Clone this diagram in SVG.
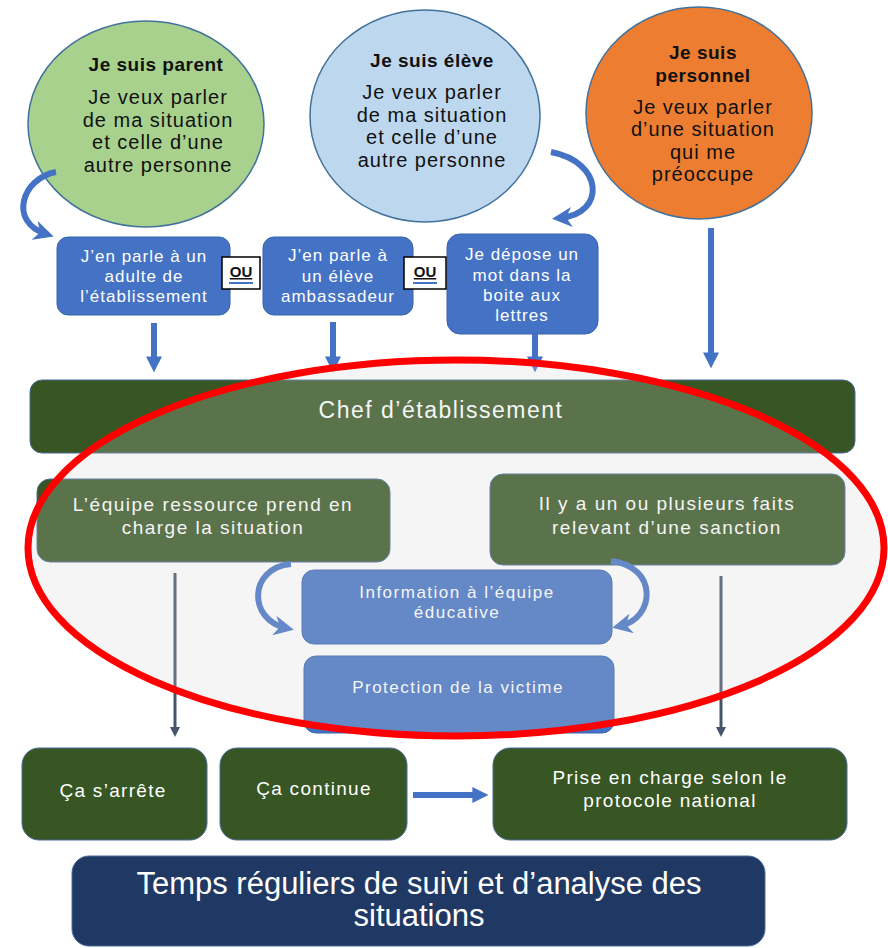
<svg xmlns="http://www.w3.org/2000/svg" width="888" height="948" viewBox="0 0 888 948">
<defs>
<style>
.t{font-family:"Liberation Sans",Arial,sans-serif;text-anchor:middle;}
.dk{fill:#111;}
.wh{fill:#fff;}
.b{font-weight:bold;letter-spacing:0.5px;font-size:19px;}
.eb{font-size:20px;letter-spacing:1px;}
.sb{font-size:17px;letter-spacing:1px;}
.gb{font-size:19px;letter-spacing:1.5px;}
.ib{font-size:17px;letter-spacing:1.5px;}
.bb{font-size:19px;letter-spacing:1.3px;}
.ell{stroke:#41719C;stroke-width:1.5;}
.bx{fill:#4472C4;stroke:#3A63AD;stroke-width:1;}
.gr{fill:#375623;stroke:#4A6A9A;stroke-width:1;}
.ou{fill:#fff;stroke:#000;stroke-width:1.5;}
.arr{fill:none;stroke:#4472C4;stroke-width:6;}
.thin{fill:none;stroke:#44546A;stroke-width:3;}
</style>
<marker id="ah" viewBox="0 0 10 10" refX="6" refY="5" markerWidth="16" markerHeight="16" markerUnits="userSpaceOnUse" orient="auto">
<path d="M0,0 L10,5 L0,10 Z" fill="#4472C4"/>
</marker>
<marker id="ahc" viewBox="0 0 10 10" refX="6" refY="5" markerWidth="20" markerHeight="20" markerUnits="userSpaceOnUse" orient="auto">
<path d="M0,0 L10,5 L0,10 L3,5 Z" fill="#4472C4"/>
</marker>
<marker id="aht" viewBox="0 0 10 10" refX="6" refY="5" markerWidth="10" markerHeight="10" markerUnits="userSpaceOnUse" orient="auto">
<path d="M0,0 L10,5 L0,10 Z" fill="#44546A"/>
</marker>
</defs>
<rect width="888" height="948" fill="#fff"/>

<g id="parent">
<ellipse class="ell" cx="146" cy="124" rx="118" ry="103" fill="#A9D18E"/>
<text class="t dk b" x="156" y="71">Je suis parent</text>
<text class="t dk eb" x="158" y="104">Je veux parler</text>
<text class="t dk eb" x="158" y="127">de ma situation</text>
<text class="t dk eb" x="158" y="149">et celle d’une</text>
<text class="t dk eb" x="158" y="172">autre personne</text>
</g>
<g id="eleve">
<ellipse class="ell" cx="425" cy="116" rx="115" ry="106" fill="#BDD7EE"/>
<text class="t dk b" x="432" y="67">Je suis élève</text>
<text class="t dk eb" x="432" y="99">Je veux parler</text>
<text class="t dk eb" x="432" y="122">de ma situation</text>
<text class="t dk eb" x="432" y="144">et celle d’une</text>
<text class="t dk eb" x="432" y="167">autre personne</text>
</g>
<g id="personnel">
<ellipse class="ell" cx="699" cy="113" rx="113" ry="106" fill="#ED7D31"/>
<text class="t dk b" x="703" y="59">Je suis</text>
<text class="t dk b" x="703" y="82">personnel</text>
<text class="t dk eb" x="703" y="114">Je veux parler</text>
<text class="t dk eb" x="703" y="136">d’une situation</text>
<text class="t dk eb" x="703" y="159">qui me</text>
<text class="t dk eb" x="703" y="181">préoccupe</text>
</g>

<g id="adulte">
<rect class="bx" x="57" y="237" width="173" height="78" rx="11"/>
<text class="t wh sb" x="144" y="262">J’en parle à un</text>
<text class="t wh sb" x="144" y="282">adulte de</text>
<text class="t wh sb" x="144" y="302">l’établissement</text>
</g>
<g id="ambassadeur">
<rect class="bx" x="263" y="237" width="150" height="78" rx="11"/>
<text class="t wh sb" x="338" y="261">J’en parle à</text>
<text class="t wh sb" x="338" y="282">un élève</text>
<text class="t wh sb" x="338" y="302">ambassadeur</text>
</g>
<g id="boite">
<rect class="bx" x="447" y="234" width="151" height="100" rx="13"/>
<text class="t wh sb" x="522" y="260">Je dépose un</text>
<text class="t wh sb" x="522" y="281">mot dans la</text>
<text class="t wh sb" x="522" y="301">boite aux</text>
<text class="t wh sb" x="522" y="321">lettres</text>
</g>
<g id="ou1">
<rect class="ou" x="222" y="257" width="38" height="32"/>
<text class="t dk" x="241" y="277" font-size="15" font-weight="bold" text-decoration="underline">OU</text>
<line x1="229" y1="283" x2="253" y2="283" stroke="#4472C4" stroke-width="2"/>
</g>
<g id="ou2">
<rect class="ou" x="404" y="257" width="42" height="32"/>
<text class="t dk" x="425" y="277" font-size="15" font-weight="bold" text-decoration="underline">OU</text>
<line x1="413" y1="283" x2="437" y2="283" stroke="#4472C4" stroke-width="2"/>
</g>

<g id="chef">
<rect class="gr" x="30" y="380" width="825" height="73" rx="12"/>
<text class="t wh" x="441" y="418" font-size="23" letter-spacing="1.5">Chef d’établissement</text>
</g>
<g id="equipe">
<rect class="gr" x="37" y="479" width="353" height="83" rx="13"/>
<text class="t wh gb" x="213" y="511">L’équipe ressource prend en</text>
<text class="t wh gb" x="213" y="534">charge la situation</text>
</g>
<g id="sanction">
<rect class="gr" x="490" y="474" width="355" height="91" rx="13"/>
<text class="t wh gb" x="667" y="510">Il y a un ou plusieurs faits</text>
<text class="t wh gb" x="667" y="534">relevant d’une sanction</text>
</g>
<g id="information">
<rect class="bx" x="302" y="570" width="310" height="74" rx="12"/>
<text class="t wh ib" x="457" y="598">Information à l’équipe</text>
<text class="t wh ib" x="457" y="618">éducative</text>
</g>
<g id="protection">
<rect class="bx" x="304" y="656" width="310" height="77" rx="12"/>
<text class="t wh ib" x="458" y="693">Protection de la victime</text>
</g>

<g id="arrete">
<rect class="gr" x="22" y="748" width="185" height="92" rx="17"/>
<text class="t wh bb" x="113" y="797">Ça s’arrête</text>
</g>
<g id="continue">
<rect class="gr" x="220" y="748" width="187" height="92" rx="17"/>
<text class="t wh bb" x="314" y="795">Ça continue</text>
</g>
<g id="protocole">
<rect class="gr" x="493" y="748" width="354" height="92" rx="17"/>
<text class="t wh bb" x="670" y="784">Prise en charge selon le</text>
<text class="t wh bb" x="670" y="807">protocole national</text>
</g>
<g id="suivi">
<rect x="72" y="856" width="693" height="90" rx="17" fill="#1F3864" stroke="#4A6A9A" stroke-width="1"/>
<text class="t wh" x="419" y="894" font-size="31">Temps réguliers de suivi et d’analyse des</text>
<text class="t wh" x="419" y="926" font-size="31">situations</text>
</g>

<g id="connectors">
<path class="arr" d="M56,172 C22,178 8,222 46,234" marker-end="url(#ahc)"/>
<path class="arr" d="M551,152 C604,162 606,214 560,218" marker-end="url(#ahc)"/>
<path class="arr" d="M154,323 L154,366" marker-end="url(#ah)"/>
<path class="arr" d="M333,322 L333,366" marker-end="url(#ah)"/>
<path class="arr" d="M535,334 L535,366" marker-end="url(#ah)"/>
<path class="arr" d="M711,228 L711,362" marker-end="url(#ah)"/>
<path class="arr" d="M291,564 C248,568 248,620 286,628" marker-end="url(#ahc)"/>
<path class="arr" d="M611,561 C658,566 656,618 620,626" marker-end="url(#ahc)"/>
<path class="thin" d="M175,573 L175,733" marker-end="url(#aht)"/>
<path class="thin" d="M721,576 L721,733" marker-end="url(#aht)"/>
<path class="arr" d="M413,795 L482,795" marker-end="url(#ah)"/>
</g>

<g id="highlight">
<ellipse cx="456" cy="548" rx="428" ry="188" fill="rgb(211,211,211)" fill-opacity="0.23" stroke="#FF0000" stroke-width="7"/>
</g>
</svg>
